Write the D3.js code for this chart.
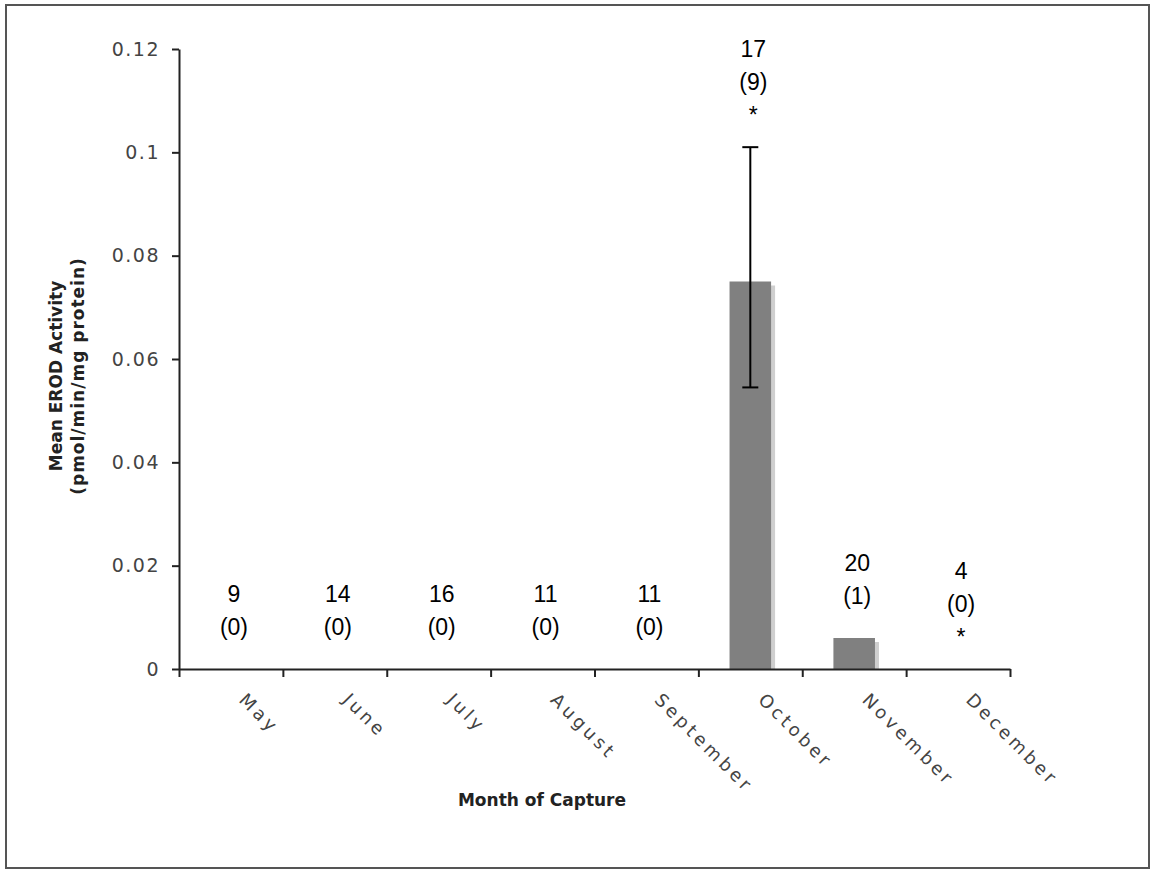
<!DOCTYPE html>
<html>
<head>
<meta charset="utf-8">
<script src="https://cdn.jsdelivr.net/npm/d3@7"></script>
<style>
  body { margin: 0; background: #fff; }
  svg { display: block; }
</style>
</head>
<body>
<script>
// month of capture and EROD data
var months = ["May", "June", "July", "August", "September", "October", "November", "December"];
var meanActivity = [0, 0, 0, 0, 0, 0.075, 0.006, 0];
var errHigh = [null, null, null, null, null, 0.101, null, null];
var errLow = [null, null, null, null, null, 0.0545, null, null];
var sampleSize = [9, 14, 16, 11, 11, 17, 20, 4];
var detected = [0, 0, 0, 0, 0, 9, 1, 0];
var significant = [false, false, false, false, false, true, false, true];
var yTicks = [0, 0.02, 0.04, 0.06, 0.08, 0.1, 0.12];

var width = 1152;
var height = 872;

var plotLeft = 179, plotRight = 1010, plotTop = 49, plotBottom = 669;

var svg = d3.select("body")
    .append("svg")
    .attr("width", width)
    .attr("height", height);

// outer frame
svg.append("rect")
    .attr("x", 6).attr("y", 5)
    .attr("width", 1143).attr("height", 863)
    .attr("fill", "none")
    .attr("stroke", "#555")
    .attr("stroke-width", 2);

var x = d3.scaleBand()
    .domain(months)
    .range([plotLeft, plotRight])
    .padding(0);

var xb = d3.scaleLinear()
    .domain([0, months.length])
    .range([plotLeft, plotRight]);

var y = d3.scaleLinear()
    .domain([0, 0.12])
    .range([plotBottom, plotTop]);

var barW = x.bandwidth() * 0.4;

function cx(d) { return x(d) + x.bandwidth() / 2; }
function val(arr, d) { return arr[months.indexOf(d)]; }

//bars with a soft shadow on the right
var withBars = months.filter(function(d, i) { return meanActivity[i] > 0; });

svg.selectAll("rect.shadow")
    .data(withBars)
    .enter()
    .append("rect")
    .attr("class", "shadow")
    .attr("x", function(d) { return cx(d) - barW / 2 + 4; })
    .attr("y", function(d) { return y(val(meanActivity, d)) + 4; })
    .attr("width", barW)
    .attr("height", function(d) { return plotBottom - y(val(meanActivity, d)) - 4; })
    .attr("fill", "#cfcfcf");

svg.selectAll("rect.bar")
    .data(withBars)
    .enter()
    .append("rect")
    .attr("class", "bar")
    .attr("x", function(d) { return cx(d) - barW / 2; })
    .attr("y", function(d) { return y(val(meanActivity, d)); })
    .attr("width", barW)
    .attr("height", function(d) { return plotBottom - y(val(meanActivity, d)); })
    .attr("fill", "#808080");

// error bars
var errs = svg.selectAll("g.err")
    .data(months.filter(function(d, i) { return errHigh[i] != null; }))
    .enter()
    .append("g")
    .attr("class", "err")
    .attr("stroke", "#000")
    .attr("stroke-width", 2);

errs.append("line")
    .attr("x1", cx)
    .attr("x2", cx)
    .attr("y1", function(d) { return y(val(errHigh, d)); })
    .attr("y2", function(d) { return y(val(errLow, d)); });

[errHigh, errLow].forEach(function(arr) {
  errs.append("line")
    .attr("x1", function(d) { return cx(d) - 8; })
    .attr("x2", function(d) { return cx(d) + 8; })
    .attr("y1", function(d) { return y(val(arr, d)); })
    .attr("y2", function(d) { return y(val(arr, d)); });
});

// axes
var yAxis = svg.append("g")
    .attr("transform", "translate(" + plotLeft + ",0)")
    .call(d3.axisLeft(y)
        .tickValues(yTicks)
        .tickSize(7)
        .tickSizeOuter(0)
        .tickPadding(12)
        .tickFormat(function(d) { return String(+d.toFixed(2)); }));

var xAxis = svg.append("g")
    .attr("transform", "translate(0," + plotBottom + ")")
    .call(d3.axisBottom(xb)
        .ticks(months.length)
        .tickSize(8)
        .tickSizeOuter(0)
        .tickFormat(""));

svg.selectAll(".domain").attr("stroke", "#222").attr("stroke-width", 2);
svg.selectAll(".tick line").attr("stroke", "#222").attr("stroke-width", 2);

yAxis.selectAll("text")
    .attr("font-family", "Verdana, 'DejaVu Sans', sans-serif")
    .attr("font-size", 19)
    .attr("letter-spacing", 1.5)
    .attr("fill", "#444");

// month labels, turned 45 degrees
svg.selectAll("text.month")
    .data(months)
    .enter()
    .append("text")
    .attr("class", "month")
    .attr("transform", function(d) {
        return "translate(" + (cx(d) + 7) + "," + (plotBottom + 32) + ") rotate(45)";
    })
    .attr("font-family", "Verdana, 'DejaVu Sans', sans-serif")
    .attr("font-size", 18)
    .attr("letter-spacing", 3.5)
    .attr("fill", "#444")
    .text(function(d) { return d; });

// axis titles
svg.append("text")
    .attr("x", 542)
    .attr("y", 806)
    .attr("text-anchor", "middle")
    .attr("font-family", "Verdana, 'DejaVu Sans', sans-serif")
    .attr("font-weight", "bold")
    .attr("font-size", 17)
    .attr("fill", "#222")
    .text("Month of Capture");

var yTitle = svg.append("text")
    .attr("transform", "translate(0,376) rotate(-90)")
    .attr("text-anchor", "middle")
    .attr("font-family", "Verdana, 'DejaVu Sans', sans-serif")
    .attr("font-weight", "bold")
    .attr("font-size", 17)
    .attr("fill", "#222");
yTitle.append("tspan").attr("x", 0).attr("y", 62).text("Mean EROD Activity");
yTitle.append("tspan").attr("x", 0).attr("y", 84).attr("letter-spacing", 1).text("(pmol/min/mg protein)");

// n, (number detected) and significance marker above each month
var notes = svg.selectAll("g.note")
    .data(months)
    .enter()
    .append("g")
    .attr("class", "note")
    .attr("font-family", "Arial, 'Liberation Sans', sans-serif")
    .attr("font-size", 23)
    .attr("text-anchor", "middle")
    .attr("fill", "#000");

notes.each(function(d, i) {
    var g = d3.select(this);
    var topVal = errHigh[i] != null ? errHigh[i] : meanActivity[i];
    var lines = [String(sampleSize[i]), "(" + detected[i] + ")"];
    if (significant[i]) lines.push("*");
    var base = y(topVal) - (significant[i] ? 24 : 34);
    lines.reverse().forEach(function(t, k) {
        g.append("text")
            .attr("x", cx(d) + 3)
            .attr("y", base - k * 33)
            .text(t);
    });
});
</script>
</body>
</html>
